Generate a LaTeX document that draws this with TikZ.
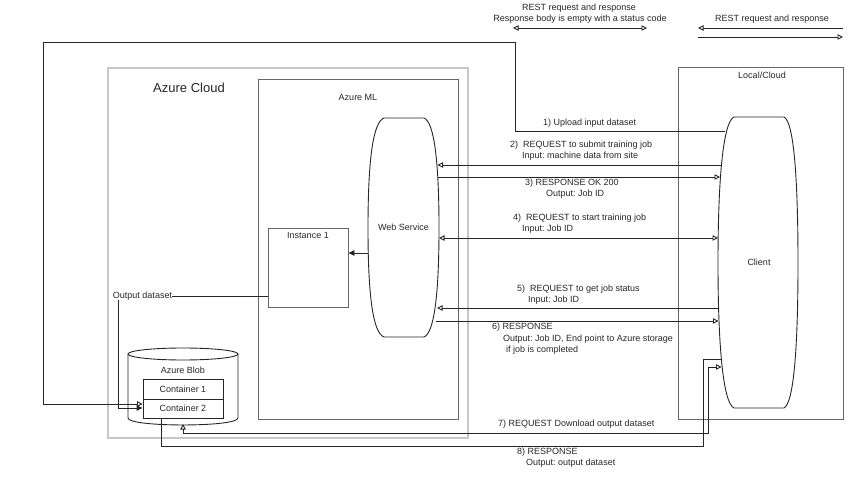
\documentclass[tikz,border=0pt]{standalone}
\usepackage{fontspec}
\setmainfont{Liberation Sans}
\usetikzlibrary{arrows.meta}
\begin{document}
\frenchspacing
\begin{tikzpicture}[x=1pt,y=-1pt,
  every node/.style={font=\fontsize{9}{11}\selectfont\frenchspacing, inner sep=0pt, text=black!85},
  ln/.style={draw=black!85, line width=0.9pt},
  op/.style={-{Triangle[open,length=5.5pt,width=5.5pt]}},
  dop/.style={{Triangle[open,length=5.5pt,width=5.5pt]}-{Triangle[open,length=5.5pt,width=5.5pt]}},
  fl/.style={-{Triangle[length=6pt,width=5.5pt]}},
  box/.style={draw=black!60, line width=0.9pt, minimum width=#1},
  cloudbox/.style={draw=black!22, line width=1.6pt},
]
\useasboundingbox (0,0) rectangle (855,481);

% legend
\node (lg1) at (579,8) {REST request and response};
\node (lg2) at (580,19) {Response body is empty with a status code};
\coordinate (lgA) at (513,28); \coordinate (lgB) at (647,28);
\draw[ln, dop] (lgA) -- (lgB);
\node (lg3) at (772,19) {REST request and response};
\coordinate (lgC) at (698,28); \coordinate (lgD) at (843,28);
\coordinate (lgE) at (698,37); \coordinate (lgF) at (843,37);
\draw[ln, op] (lgD) -- (lgC);
\draw[ln, op] (lgE) -- (lgF);

% containers
\node[cloudbox, minimum width=360, minimum height=370] (cloud) at (288,253) {};
\node[font=\fontsize{13}{15}\selectfont] (cloudt) at (189,88) {Azure Cloud};
\node[box=200, minimum height=340] (ml) at (358,249) {};
\node (mlt) at (358,97) {Azure ML};
\node[box=165, minimum height=352] (local) at (760.5,243) {};
\node (localt) at (762,75) {Local/Cloud};

% instance
\node[box=80, minimum height=79] (inst) at (308,267.5) {};
\node (instt) at (308,235) {Instance 1};

% web service shape
\draw[ln] (384,118) -- (424,118)
  .. controls (434,122) and (439,160) .. (439,228)
  .. controls (439,296) and (434,333) .. (424,337)
  -- (384,337)
  .. controls (373,333) and (368,296) .. (368,228)
  .. controls (368,160) and (373,122) .. (384,118) -- cycle;
\node (ws) at (403.5,227.5) {Web Service};

% client shape
\draw[ln] (734,117) -- (784,117)
  .. controls (794,122) and (798,180) .. (798,263)
  .. controls (798,345) and (794,403) .. (784,408)
  -- (734,408)
  .. controls (723,403) and (718,345) .. (718,263)
  .. controls (718,180) and (723,122) .. (734,117) -- cycle;
\node (client) at (759,262) {Client};

% blob cylinder
\draw[ln] (128,354) -- (128,418) .. controls (128,427.3) and (238,427.3) .. (238,418) -- (238,354);
\draw[ln] (183,354) ellipse [x radius=55, y radius=6];
\node (blob) at (183,370) {Azure Blob};
\node[box=80, minimum height=20, draw=black!85] (c1) at (183,389) {Container 1};
\node[box=80, minimum height=19, draw=black!85] (c2) at (183,408.5) {Container 2};
\coordinate (blobbot) at (183,424);

% edge coordinates
\coordinate (wsA) at (437.5,165);
\coordinate (wsB) at (438,177);
\coordinate (wsC) at (439,238);
\coordinate (wsD) at (437,308);
\coordinate (wsE) at (435.5,321);
\coordinate (wsL) at (368,253);
\coordinate (cA) at (725,131);
\coordinate (cB) at (721,165);
\coordinate (cC) at (720,177);
\coordinate (cD) at (718,238);
\coordinate (cE) at (718,308);
\coordinate (cF) at (718.5,321);
\coordinate (cG) at (720.5,359);
\coordinate (cH) at (721.5,367);

% 1) upload loop
\draw[ln, op] (cA) -- (515,131) -- (515,42) -- (43,42) -- (43,404) -- (c2.west |- 0,404);
\node[anchor=west] (l1) at (543,123) {1) Upload input dataset};

% output dataset
\node (od) at (142.5,296) {Output dataset};
\draw[ln] (inst.west |- od.east) -- (od.east);
\draw[ln, fl] (od.south -| 118,0) -- (118,408) -- (c2.west |- 0,408);

% ws -> instance
\draw[ln, fl] (wsL) -- (inst.east |- wsL);

% 2..6
\draw[ln, op] (cB) -- (wsA);
\node[anchor=west] (l2a) at (510,145) {2)\ \ REQUEST to submit training job};
\node[anchor=west] (l2b) at (522,156) {Input: machine data from site};
\draw[ln, op] (wsB) -- (cC);
\node[anchor=west] (l3a) at (525,183) {3) RESPONSE OK 200};
\node[anchor=west] (l3b) at (546,194) {Output: Job ID};
\draw[ln, dop] (wsC) -- (cD);
\node[anchor=west] (l4a) at (513,218) {4)\ \ REQUEST to start training job};
\node[anchor=west] (l4b) at (522,229) {Input: Job ID};
\draw[ln, op] (cE) -- (wsD);
\node[anchor=west] (l5a) at (517,289) {5)\ \ REQUEST to get job status};
\node[anchor=west] (l5b) at (528,300) {Input: Job ID};
\draw[ln, op] (wsE) -- (cF);
\node[anchor=west] (l6a) at (492,327) {6) RESPONSE};
\node[anchor=west] (l6b) at (503,339) {Output: Job ID, End point to Azure storage};
\node[anchor=west] (l6c) at (506,350) {if job is completed};

% 7) and 8)
\draw[ln, dop] (cH) -- (708,367) -- (708,433) -- (183,433) -- (blobbot);
\node[anchor=west] (l7) at (498,424) {7) REQUEST Download output dataset};
\draw[ln] (161,0 |- c2.south) -- (161,446) -- (703,446) -- (703,359) -- (cG);
\node[anchor=west] (l8a) at (517,452) {8) RESPONSE};
\node[anchor=west] (l8b) at (526,463) {Output: output dataset};
\end{tikzpicture}
\end{document}
